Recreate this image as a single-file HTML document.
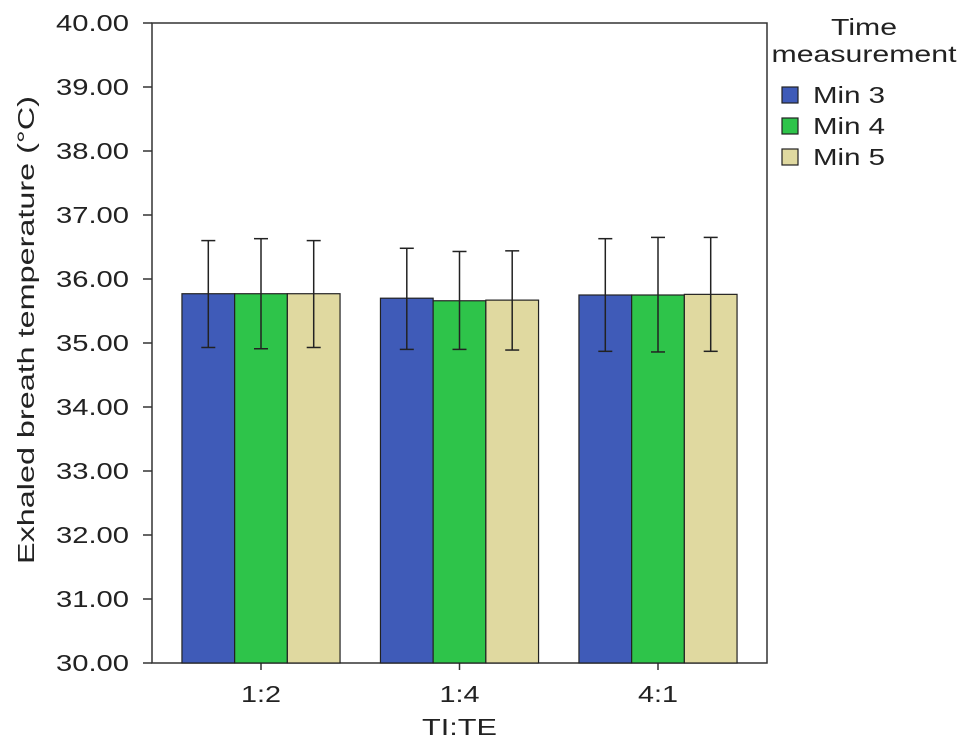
<!DOCTYPE html>
<html><head><meta charset="utf-8"><style>
body{margin:0;background:#fff;}
svg{display:block;font-family:"Liberation Sans",sans-serif;}
</style></head><body>
<svg id="chart" width="969" height="747">
<g id="axes"></g><g id="bars"></g><g id="legend"></g>
</svg>
<script>
const categories=["1:2","1:4","4:1"];
const seriesNames=["Min 3","Min 4","Min 5"];
const means=[[35.77,35.70,35.75],[35.77,35.66,35.75],[35.77,35.67,35.76]];
const upper=[[36.60,36.48,36.63],[36.63,36.43,36.65],[36.60,36.44,36.65]];
const lower=[[34.93,34.90,34.87],[34.91,34.90,34.86],[34.93,34.89,34.87]];
const yTicks=[30,31,32,33,34,35,36,37,38,39,40];
const colors=["#3f5bb8","#2ec44a","#e0d9a0"];
const NS="http://www.w3.org/2000/svg";
const x0=152,x1=767,yTop=23,yBot=663,ymin=30,ymax=40;
const y=v=>yBot-(v-ymin)/(ymax-ymin)*(yBot-yTop);
const groupW=198.5, firstCenter=x0+109;
const cx=g=>firstCenter+groupW*g;
const barW=52.7;
const bx=(g,s)=>cx(g)-1.5*barW+s*barW;
function el(t,a,p){const e=document.createElementNS(NS,t);for(const k in a)e.setAttribute(k,a[k]);p.appendChild(e);return e;}
const axes=document.getElementById('axes'),bars=document.getElementById('bars'),leg=document.getElementById('legend');
let a=el('rect',{x:x0,y:yTop,width:x1-x0,height:yBot-yTop,fill:'none',stroke:'#333','stroke-width':1.5},axes);


yTicks.forEach(v=>{
 el('line',{x1:x0-9,y1:y(v),x2:x0,y2:y(v),stroke:'#333','stroke-width':1.5},axes);
 const t=el('text',{x:x0-23,y:y(v)+8,'text-anchor':'end','font-size':23,fill:'#222',textLength:73,lengthAdjust:'spacingAndGlyphs'},axes);
 t.textContent=v.toFixed(2);
 
 
});
categories.forEach((c,g)=>{
 el('line',{x1:cx(g),y1:yBot,x2:cx(g),y2:yBot+7,stroke:'#333','stroke-width':1.5},axes);
 const t=el('text',{x:cx(g),y:yBot+39,'text-anchor':'middle','font-size':23,fill:'#222',textLength:40,lengthAdjust:'spacingAndGlyphs'},axes);
 t.textContent=c;
 
 
 for(let s=0;s<3;s++){
  const r=el('rect',{x:bx(g,s),y:y(means[s][g]),width:barW,height:yBot-y(means[s][g]),fill:colors[s],stroke:'#222','stroke-width':1.2},bars);
  
  
  const mx=bx(g,s)+barW/2;
  const eb=el('g',{stroke:'#222','stroke-width':1.5},bars);
  
  
  el('line',{x1:mx,y1:y(upper[s][g]),x2:mx,y2:y(lower[s][g])},eb);
  el('line',{x1:mx-7,y1:y(upper[s][g]),x2:mx+7,y2:y(upper[s][g])},eb);
  el('line',{x1:mx-7,y1:y(lower[s][g]),x2:mx+7,y2:y(lower[s][g])},eb);
 }
});
let t=el('text',{x:cx(1),y:735,'text-anchor':'middle','font-size':23,fill:'#222',textLength:75,lengthAdjust:'spacingAndGlyphs'},axes);
t.textContent="TI:TE";


t=el('text',{x:0,y:0,'text-anchor':'middle','font-size':23,fill:'#222',textLength:468,lengthAdjust:'spacingAndGlyphs',transform:'translate(34,330) rotate(-90)'},axes);
t.textContent="Exhaled breath temperature (°C)";


t=el('text',{x:864,y:35,'text-anchor':'middle','font-size':23,fill:'#222',textLength:66,lengthAdjust:'spacingAndGlyphs'},leg);
t.textContent="Time";


t=el('text',{x:864,y:62,'text-anchor':'middle','font-size':23,fill:'#222',textLength:185,lengthAdjust:'spacingAndGlyphs'},leg);
t.textContent="measurement";


seriesNames.forEach((n,i)=>{
 const ly=87+i*31;
 const g=el('g',{},leg);
 
 
 el('rect',{x:782,y:ly,width:16,height:16,fill:colors[i],stroke:'#222','stroke-width':1.2},g);
 const tt=el('text',{x:813,y:ly+16,'font-size':23,fill:'#222',textLength:72,lengthAdjust:'spacingAndGlyphs'},g);
 tt.textContent=n;
});
</script>
</body></html>
